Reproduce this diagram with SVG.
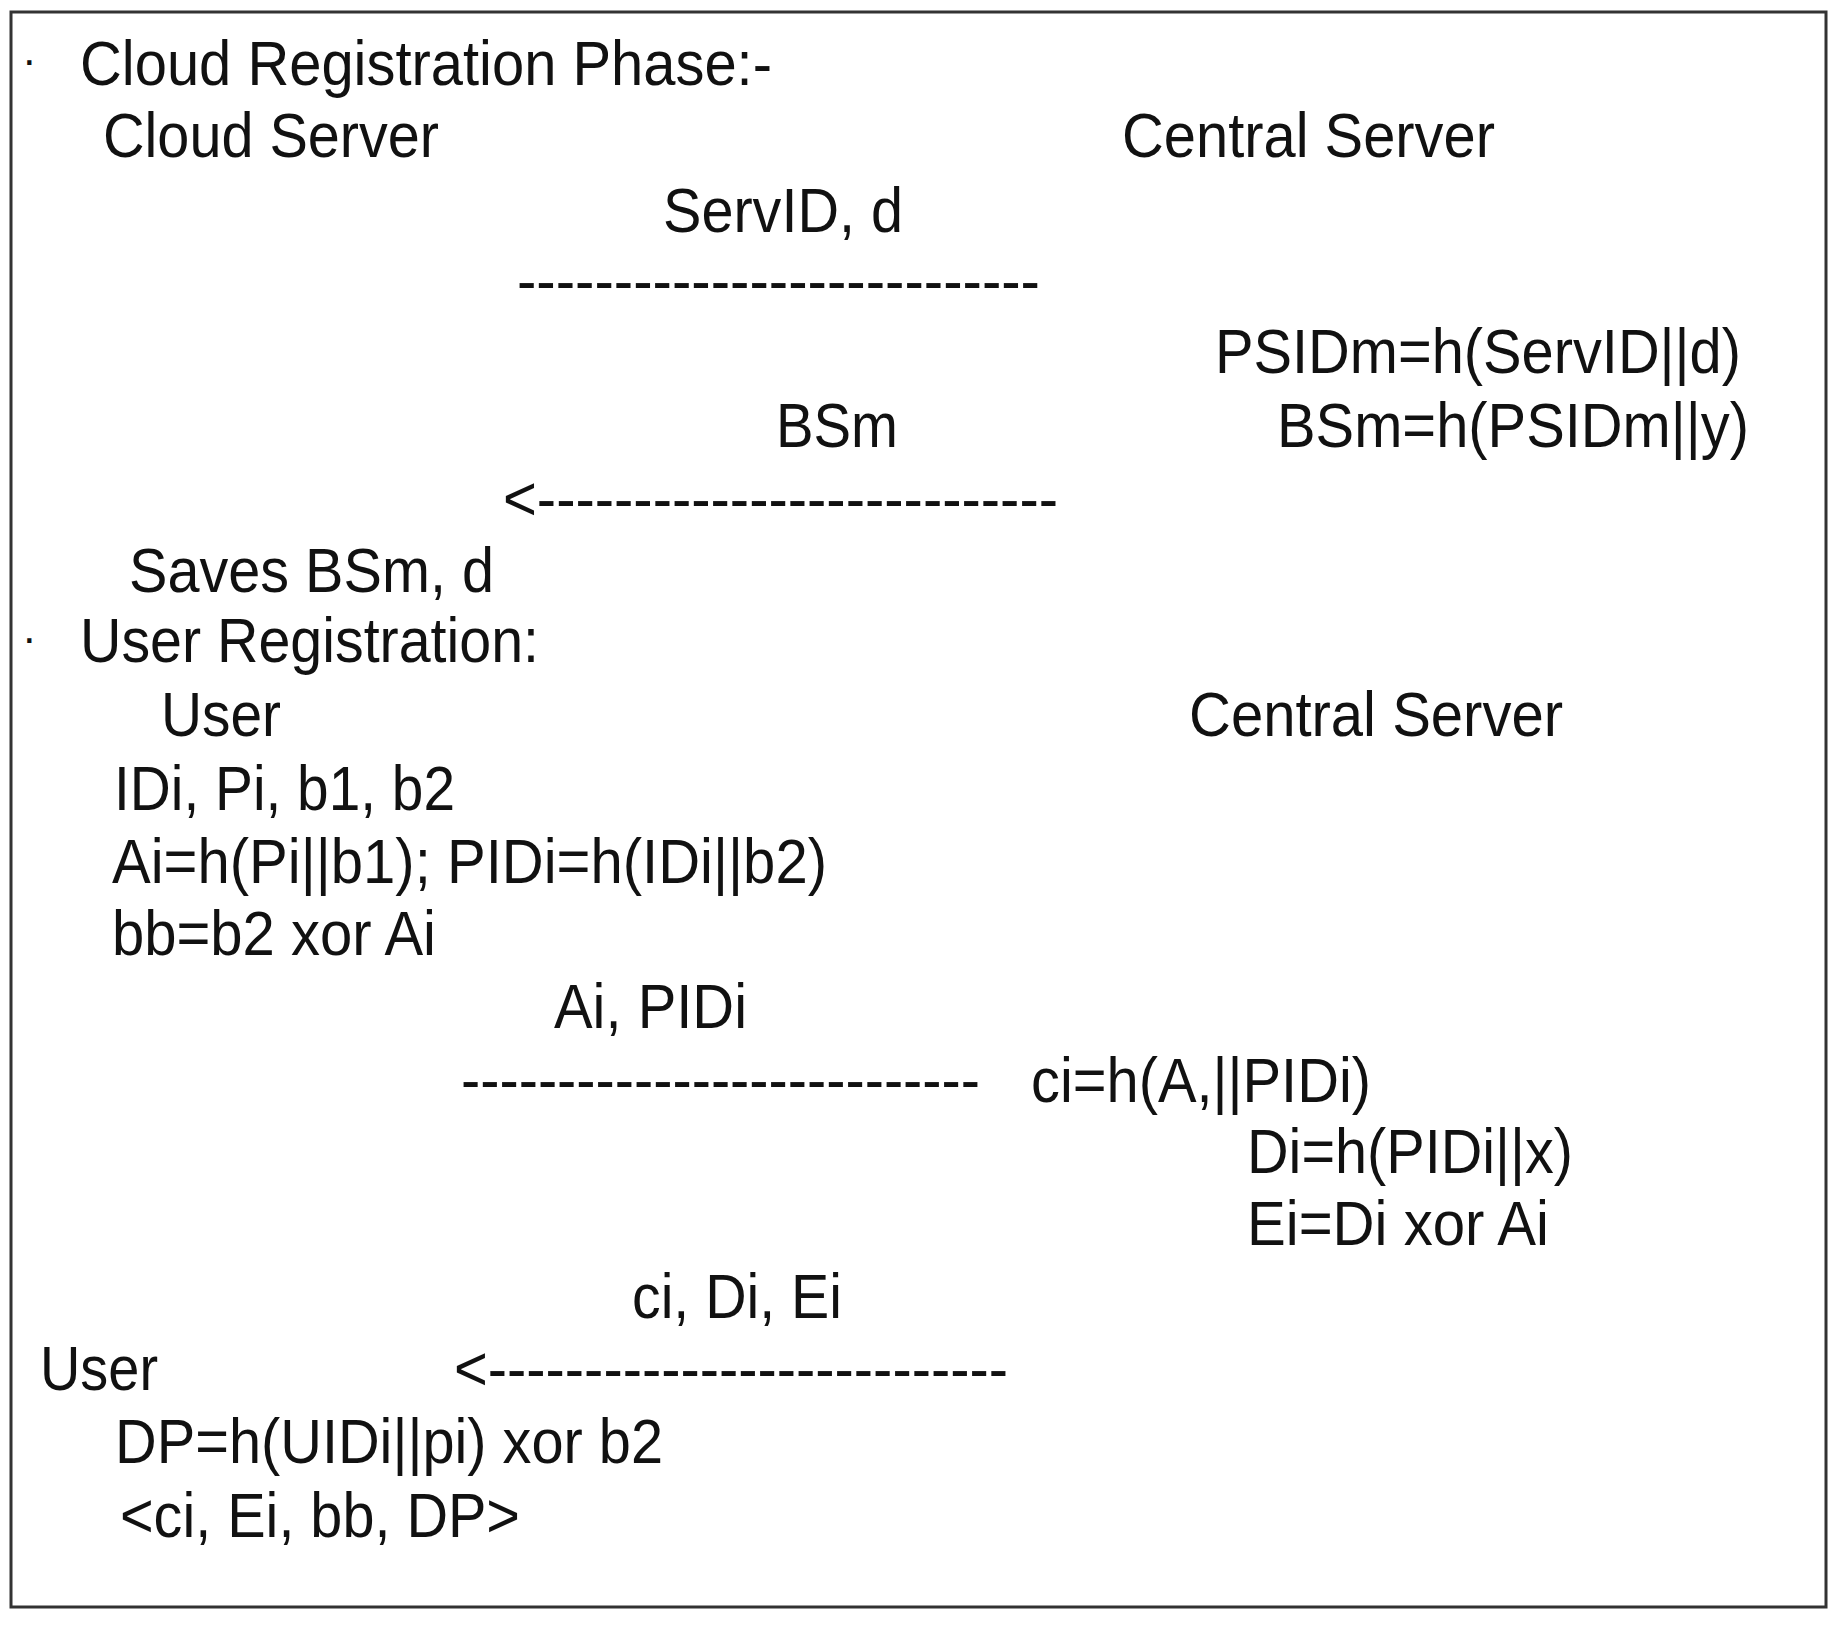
<svg xmlns="http://www.w3.org/2000/svg" width="1842" height="1625" viewBox="0 0 1842 1625">
<style>
text{font-family:"Liberation Sans",Arial,Helvetica,sans-serif;font-size:63px;fill:#111;}
.dot{font-size:44px;}
</style>
<rect width="1842" height="1625" fill="#fff"/>
<rect id="frame" x="11" y="12" width="1815" height="1595" fill="none" stroke="#333" stroke-width="3"/>
<g id="cloud-phase">
<text class="dot" x="22" y="75">·</text>
<text x="80" y="85" textLength="692" lengthAdjust="spacingAndGlyphs">Cloud Registration Phase:-</text>
</g>
<g id="cloud-server"><text x="103" y="157" textLength="336" lengthAdjust="spacingAndGlyphs">Cloud Server</text></g>
<g id="central-server-1"><text x="1122" y="157" textLength="373" lengthAdjust="spacingAndGlyphs">Central Server</text></g>
<g id="msg1"><text x="663" y="232" textLength="240" lengthAdjust="spacingAndGlyphs">ServID, d</text></g>
<g id="cs-compute">
<text x="1215" y="373" textLength="526" lengthAdjust="spacingAndGlyphs">PSIDm=h(ServID||d)</text>
<text x="1277" y="447" textLength="472" lengthAdjust="spacingAndGlyphs">BSm=h(PSIDm||y)</text>
</g>
<g id="msg2"><text x="776" y="447" textLength="122" lengthAdjust="spacingAndGlyphs">BSm</text></g>
<g id="cloud-save"><text x="129" y="592" textLength="365" lengthAdjust="spacingAndGlyphs">Saves BSm, d</text></g>
<g id="user-phase">
<text class="dot" x="22" y="653">·</text>
<text x="80" y="662" textLength="459" lengthAdjust="spacingAndGlyphs">User Registration:</text>
</g>
<g id="user-1"><text x="161" y="736" textLength="120" lengthAdjust="spacingAndGlyphs">User</text></g>
<g id="central-server-2"><text x="1189" y="736" textLength="374" lengthAdjust="spacingAndGlyphs">Central Server</text></g>
<g id="user-compute">
<text x="114" y="810" textLength="341" lengthAdjust="spacingAndGlyphs">IDi, Pi, b1, b2</text>
<text x="112" y="883" textLength="715" lengthAdjust="spacingAndGlyphs">Ai=h(Pi||b1); PIDi=h(IDi||b2)</text>
<text x="112" y="955" textLength="324" lengthAdjust="spacingAndGlyphs">bb=b2 xor Ai</text>
</g>
<g id="msg3"><text x="554" y="1028" textLength="193" lengthAdjust="spacingAndGlyphs">Ai, PIDi</text></g>
<g id="cs-compute-2">
<text x="1031" y="1102" textLength="340" lengthAdjust="spacingAndGlyphs">ci=h(A,||PIDi)</text>
<text x="1247" y="1173" textLength="326" lengthAdjust="spacingAndGlyphs">Di=h(PIDi||x)</text>
<text x="1247" y="1245" textLength="302" lengthAdjust="spacingAndGlyphs">Ei=Di xor Ai</text>
</g>
<g id="msg4"><text x="632" y="1318" textLength="210" lengthAdjust="spacingAndGlyphs">ci, Di, Ei</text></g>
<g id="user-2"><text x="40" y="1390" textLength="118" lengthAdjust="spacingAndGlyphs">User</text></g>
<g id="user-final">
<text x="115" y="1463" textLength="548" lengthAdjust="spacingAndGlyphs">DP=h(UIDi||pi) xor b2</text>
<text x="120" y="1537" textLength="400" lengthAdjust="spacingAndGlyphs">&lt;ci, Ei, bb, DP&gt;</text>
</g>
<g id="connectors">
<text x="517" y="302" textLength="523" lengthAdjust="spacingAndGlyphs">---------------------------</text>
<text x="503" y="520" textLength="555" lengthAdjust="spacingAndGlyphs">&lt;---------------------------</text>
<text x="461" y="1101" textLength="519" lengthAdjust="spacingAndGlyphs">---------------------------</text>
<text x="454" y="1390" textLength="554" lengthAdjust="spacingAndGlyphs">&lt;---------------------------</text>
</g>
</svg>
